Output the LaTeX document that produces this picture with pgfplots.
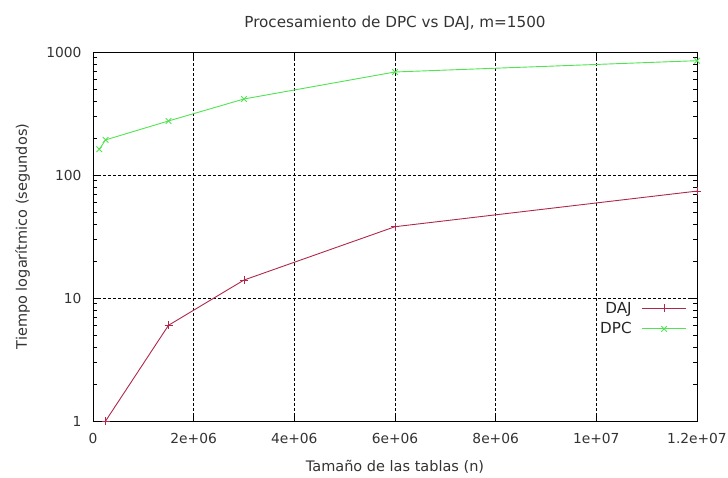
\documentclass[border=0pt]{standalone}
\usepackage{fontspec}
\setmainfont{DejaVu Sans}
\usepackage{pgfplots}
\pgfplotsset{compat=1.18}
\definecolor{daj}{RGB}{175,40,75}
\definecolor{dpc}{RGB}{80,228,80}
\begin{document}
\begin{tikzpicture}
\begin{axis}[
  scale only axis,
  width=604pt, height=369pt,
  xmin=0, xmax=12000000,
  ymode=log, ymin=1, ymax=1000,
  log basis y=10,
  log ticks with fixed point,
  /pgf/number format/1000 sep={},
  /pgf/number format/assume math mode=true,
  xtick={0,2000000,4000000,6000000,8000000,10000000,12000000},
  xticklabels={0,2e+06,4e+06,6e+06,8e+06,1e+07,1.2e+07},
  scaled x ticks=false,
  tick align=inside,
  major tick length=7pt,
  minor tick length=4pt,
  tick style={draw=black, line width=0.8pt},
  axis line style={black, line width=0.8pt},
  xmajorgrids=true, ymajorgrids=true,
  major grid style={black, dash pattern=on 3pt off 2pt, line width=0.5pt},
  ticklabel style={font=\fontsize{13.8}{16}\selectfont, text=black!80},
  xticklabel style={yshift=-9pt},
  yticklabel style={xshift=-8pt},
  title={Procesamiento de DPC vs DAJ, m=1500},
  title style={at={(axis description cs:0.5,1.051)}, anchor=base, font=\fontsize{15.2}{17}\selectfont, text=black!80},
  xlabel={Tamaño de las tablas (n)},
  xlabel style={at={(axis description cs:0.5,-0.1355)}, anchor=base, font=\fontsize{14.5}{16}\selectfont, text=black!80},
  ylabel={Tiempo logarítmico (segundos)},
  ylabel style={at={(axis description cs:-0.1093,0.5)}, anchor=base, font=\fontsize{14.5}{16}\selectfont, text=black!80},
  legend style={at={(0.988,0.334)}, anchor=north east, draw=none, fill=none,
    font=\fontsize{15.2}{17}\selectfont, text=black!85, row sep=4pt},
  legend cell align=right,
  legend plot pos=right,
  legend image code/.code={\path (0pt,0pt); \draw[mark repeat=2,mark phase=2] plot coordinates {(8pt,0pt)(30pt,0pt)(52pt,0pt)};},
  clip=false,
]
\addplot[daj, line width=0.9pt, mark=+, mark size=4pt, mark options={solid, line width=0.9pt}]
  coordinates {(250000,1) (1500000,6) (3000000,14) (6000000,38) (12000000,74)};
\addlegendentry{DAJ}
\addplot[dpc, line width=0.9pt, mark=x, mark size=4pt, mark options={solid, line width=0.9pt}]
  coordinates {(125000,162) (250000,193) (1500000,275) (3000000,415) (6000000,688) (12000000,850)};
\addlegendentry{DPC}
\pgfplotsinvokeforeach{2,3,4,5,6,7,8,9,20,30,40,50,60,70,80,90,200,300,400,500,600,700,800,900}{
  \draw[black, line width=0.8pt] (axis cs:0,#1) -- ++(4pt,0pt);
  \draw[black, line width=0.8pt] (axis cs:12000000,#1) -- ++(-4pt,0pt);
}
\end{axis}
\pgfresetboundingbox
\useasboundingbox (-93pt,-56pt) rectangle (635pt,421pt);
\end{tikzpicture}
\end{document}
